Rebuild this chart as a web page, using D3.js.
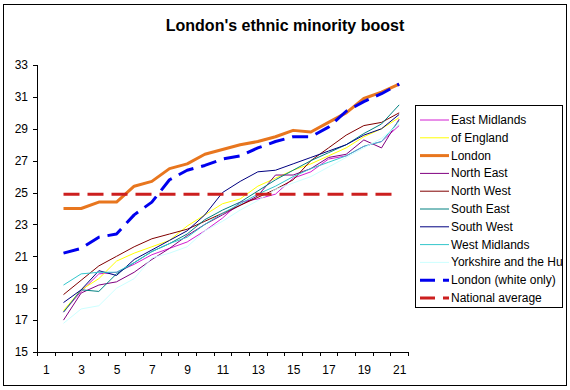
<!DOCTYPE html>
<html>
<head>
<meta charset="utf-8">
<script src="https://cdnjs.cloudflare.com/ajax/libs/d3/7.8.5/d3.min.js"></script>
<style>
  body { margin: 0; background: #fff; }
  svg text { font-family: "Liberation Sans", Arial, sans-serif; fill: #000; }
</style>
</head>
<body>
<svg id="chart" width="570" height="390"></svg>
<script>
// categories on the x axis, data starts at category 2
var categories = [1, 2, 3, 4, 5, 6, 7, 8, 9, 10, 11, 12, 13, 14, 15, 16, 17, 18, 19, 20, 21];
var xTickLabels = [1, 3, 5, 7, 9, 11, 13, 15, 17, 19, 21];
var yTickLabels = [15, 17, 19, 21, 23, 25, 27, 29, 31, 33];

var eastMidlands  = [null, 17.5, 18.8, 19.9, 20.0, 20.5, 21.1, 21.5, 21.9, 22.6, 23.4, 24.4, 24.6, 24.9, 25.9, 26.3, 27.1, 27.3, 27.9, 28.2, 29.2];
var eastOfEngland = [null, 17.6, 18.9, 19.6, 20.7, 21.2, 21.6, 22.0, 22.9, 23.6, 24.3, 24.6, 25.4, 25.9, 26.4, 26.8, 27.3, 27.8, 28.5, 29.0, 29.7];
var london        = [null, 24.0, 24.0, 24.4, 24.4, 25.4, 25.7, 26.5, 26.8, 27.4, 27.7, 28.0, 28.2, 28.5, 28.9, 28.8, 29.4, 30.0, 30.9, 31.3, 31.8];
var northEast     = [null, 17.0, 18.7, 19.2, 19.4, 20.0, 20.8, 21.5, 22.3, 23.0, 23.6, 24.2, 24.8, 26.1, 26.1, 26.5, 27.2, 27.4, 28.3, 27.8, 29.6];
var northWest     = [null, 18.6, 19.5, 20.4, 21.0, 21.6, 22.1, 22.4, 22.7, 23.2, 23.7, 24.2, 24.7, 25.2, 25.8, 27.0, 27.8, 28.6, 29.2, 29.4, 30.0];
var southEast     = [null, 17.5, 18.9, 18.8, 19.9, 20.6, 21.3, 21.8, 22.4, 23.3, 23.9, 24.4, 25.1, 25.8, 26.4, 27.0, 27.5, 28.0, 28.7, 29.3, 30.5];
var southWest     = [null, 18.1, 18.9, 20.1, 19.8, 20.8, 21.4, 22.0, 22.6, 23.6, 25.0, 25.7, 26.3, 26.4, 26.8, 27.2, 27.6, 28.0, 28.6, 29.0, 29.9];
var westMidlands  = [null, 19.2, 19.9, 20.0, 20.0, 20.6, 21.3, 21.8, 22.2, 23.0, 23.7, 24.3, 24.9, 25.4, 26.0, 26.5, 26.9, 27.3, 27.9, 28.2, 29.5];
var yorkshire     = [null, 16.8, 17.7, 17.9, 19.0, 19.6, 20.9, 21.2, 21.6, 22.6, 23.2, 23.9, 24.5, 25.2, 25.6, 26.0, 26.6, 27.2, 27.8, 28.4, 29.3];
var londonWhite   = [null, 21.2, 21.5, 22.2, 22.4, 23.6, 24.4, 25.8, 26.4, 26.7, 27.1, 27.3, 27.8, 28.2, 28.5, 28.5, 29.1, 30.1, 30.7, 31.2, 31.8];
var nationalAvg   = [null, 24.9, 24.9, 24.9, 24.9, 24.9, 24.9, 24.9, 24.9, 24.9, 24.9, 24.9, 24.9, 24.9, 24.9, 24.9, 24.9, 24.9, 24.9, 24.9, 24.9];

var series = [
	{ name: "East Midlands", values: eastMidlands, color: "#d21ed2", width: 1 },
	{ name: "of England", values: eastOfEngland, color: "#ffff00", width: 1 },
	{ name: "London", values: london, color: "#e8761e", width: 3 },
	{ name: "North East", values: northEast, color: "#800080", width: 1 },
	{ name: "North West", values: northWest, color: "#800000", width: 1 },
	{ name: "South East", values: southEast, color: "#008080", width: 1 },
	{ name: "South West", values: southWest, color: "#000080", width: 1 },
	{ name: "West Midlands", values: westMidlands, color: "#33c6cc", width: 1 },
	{ name: "Yorkshire and the Hu", values: yorkshire, color: "#ccffff", width: 1 },
	{ name: "London (white only)", values: londonWhite, color: "#0000ee", width: 3, dash: "16,8" },
	{ name: "National average", values: nationalAvg, color: "#cc1f1f", width: 3, dash: "16,8" }
];

var svg = d3.select("#chart");

// outer chart border
svg.append("rect")
	.attr("x", 3.5).attr("y", 4.5)
	.attr("width", 563).attr("height", 381)
	.attr("fill", "#fff").attr("stroke", "#000").attr("stroke-width", 1);

svg.append("text")
	.attr("x", 285).attr("y", 31)
	.attr("text-anchor", "middle")
	.style("font-size", "16px").style("font-weight", "bold")
	.text("London's ethnic minority boost");

var plot = { left: 37, right: 408, top: 65, bottom: 352 };

var x = d3.scaleLinear()
	.domain([categories[0] - 0.5, categories[categories.length - 1] + 0.5])
	.range([plot.left, plot.right]);

var y = d3.scaleLinear()
	.domain([yTickLabels[0], yTickLabels[yTickLabels.length - 1]])
	.range([plot.bottom, plot.top]);

// y axis
var yAxis = svg.append("g")
	.attr("transform", "translate(" + plot.left + ",0)")
	.call(d3.axisLeft(y).tickValues(yTickLabels).tickSize(4).tickPadding(5).tickFormat(d3.format("d")));
yAxis.selectAll("text").style("font-size", "12px");

// x axis: ticks between categories, labels on every other category
var boundaries = categories.map(function (c) { return c - 0.5; }).concat([categories[categories.length - 1] + 0.5]);
svg.append("g")
	.attr("transform", "translate(0," + plot.bottom + ")")
	.call(d3.axisBottom(x).tickValues(boundaries).tickSize(4).tickFormat(""));
var xLabels = svg.append("g")
	.attr("transform", "translate(0," + plot.bottom + ")")
	.call(d3.axisBottom(x).tickValues(xTickLabels).tickSize(0).tickPadding(13).tickFormat(d3.format("d")));
xLabels.select(".domain").remove();
xLabels.selectAll("text").style("font-size", "12px");

svg.selectAll(".domain, .tick line").attr("stroke", "#000").attr("shape-rendering", "crispEdges");

var line = d3.line()
	.defined(function (d) { return d != null; })
	.x(function (d, i) { return x(categories[i]); })
	.y(function (d) { return y(d); });

svg.append("g").selectAll("path")
	.data(series)
	.enter()
	.append("path")
	.attr("d", function (s) { return line(s.values); })
	.attr("fill", "none")
	.attr("stroke", function (s) { return s.color; })
	.attr("stroke-width", function (s) { return s.width; })
	.attr("stroke-dasharray", function (s) { return s.dash || null; })
	.attr("stroke-linejoin", "round");

// legend
var legend = svg.append("g").attr("transform", "translate(415,105)");
legend.append("rect")
	.attr("x", 0.5).attr("y", 0.5)
	.attr("width", 147).attr("height", 202)
	.attr("fill", "#fff").attr("stroke", "#000");

var item = legend.selectAll(".item")
	.data(series)
	.enter()
	.append("g")
	.attr("class", "item")
	.attr("transform", function (s, i) { return "translate(0," + (15 + i * 17.8) + ")"; });

item.append("line")
	.attr("x1", 5).attr("x2", 34)
	.attr("stroke", function (s) { return s.color; })
	.attr("stroke-width", function (s) { return s.width; })
	.attr("stroke-dasharray", function (s) { return s.dash ? "15,8" : null; });

item.append("text")
	.attr("x", 36).attr("y", 4)
	.style("font-size", "12px")
	.text(function (s) { return s.name; });
</script>
</body>
</html>
